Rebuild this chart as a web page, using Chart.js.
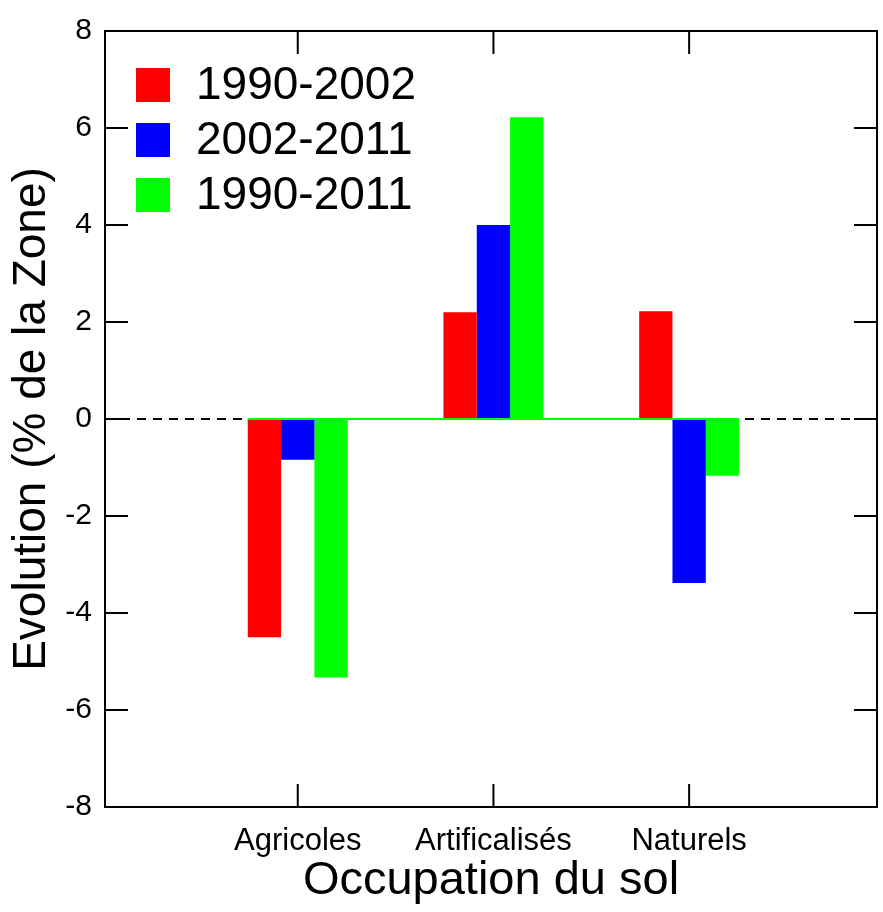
<!DOCTYPE html>
<html>
<head>
<meta charset="utf-8">
<script src="https://cdn.jsdelivr.net/npm/chart.js@4.4.0/dist/chart.umd.min.js"></script>
<style>
  html, body { margin: 0; padding: 0; background: #fff; }
  #wrap { width: 883px; height: 912px; }
</style>
</head>
<body>
<div id="wrap"><canvas id="chart" width="883" height="912"></canvas></div>
<script>
const categories = ["Agricoles", "Artificalisés", "Naturels"];
const periods = ["1990-2002", "2002-2011", "1990-2011"];
const values_1990_2002 = [-4.5, 2.2, 2.22];
const values_2002_2011 = [-0.84, 4.0, -3.38];
const values_1990_2011 = [-5.33, 6.22, -1.17];
const yTicks = [-8, -6, -4, -2, 0, 2, 4, 6, 8];
const colors = ["#ff0000", "#0000ff", "#00ff00"];

const FONT = "'Liberation Sans', Arial, sans-serif";
const seriesValues = [values_1990_2002, values_2002_2011, values_1990_2011];

function toPoints(vals) {
  return vals.map((v, i) => ({ x: i + 1, y: v }));
}

// frame, inward ticks, zero line, legend
const decor = {
  id: "decor",
  beforeDatasetsDraw(chart) {
    const { ctx, chartArea: a, scales } = chart;
    const y0 = scales.y.getPixelForValue(0);
    ctx.save();
    ctx.strokeStyle = "#000";
    ctx.lineWidth = 2;
    ctx.setLineDash([9, 7]);
    ctx.beginPath();
    ctx.moveTo(a.left, y0);
    ctx.lineTo(a.right, y0);
    ctx.stroke();
    ctx.restore();
  },
  afterDatasetsDraw(chart) {
    const { ctx, chartArea: a, scales } = chart;
    const y0 = scales.y.getPixelForValue(0);
    const first = chart.getDatasetMeta(0).data[0];
    const lastMeta = chart.getDatasetMeta(chart.data.datasets.length - 1);
    const last = lastMeta.data[lastMeta.data.length - 1];
    ctx.save();
    ctx.strokeStyle = "#00ff00";
    ctx.lineWidth = 2;
    ctx.beginPath();
    ctx.moveTo(first.x - first.width / 2, y0);
    ctx.lineTo(last.x + last.width / 2, y0);
    ctx.stroke();

    ctx.strokeStyle = "#000";
    ctx.lineWidth = 2;
    ctx.strokeRect(a.left, a.top, a.right - a.left, a.bottom - a.top);
    const tl = 23;
    ctx.beginPath();
    yTicks.forEach(t => {
      const py = scales.y.getPixelForValue(t);
      ctx.moveTo(a.left, py); ctx.lineTo(a.left + tl, py);
      ctx.moveTo(a.right, py); ctx.lineTo(a.right - tl, py);
    });
    categories.forEach((c, i) => {
      const px = scales.x.getPixelForValue(i + 1);
      ctx.moveTo(px, a.bottom); ctx.lineTo(px, a.bottom - tl);
      ctx.moveTo(px, a.top); ctx.lineTo(px, a.top + tl);
    });
    ctx.stroke();

    // legend
    ctx.font = "46px " + FONT;
    ctx.textBaseline = "middle";
    ctx.textAlign = "left";
    chart.data.datasets.forEach((ds, i) => {
      const top = 68 + i * 55;
      ctx.fillStyle = ds.backgroundColor;
      ctx.fillRect(136, top, 34, 34);
      ctx.fillStyle = "#000";
      ctx.fillText(ds.label, 196, top + 18);
    });
    ctx.restore();
  }
};

new Chart(document.getElementById("chart"), {
  type: "bar",
  data: {
    datasets: periods.map((p, i) => ({
      label: p,
      data: toPoints(seriesValues[i]),
      backgroundColor: colors[i],
      borderWidth: 0,
      barPercentage: 1,
      categoryPercentage: 0.511
    }))
  },
  options: {
    responsive: false,
    animation: false,
    layout: { padding: { top: 26, right: 6, left: 0, bottom: 0 } },
    plugins: { legend: { display: false }, tooltip: { enabled: false } },
    scales: {
      x: {
        type: "linear",
        offset: false,
        min: 0.015,
        max: 3.96,
        afterBuildTicks(scale) {
          scale.ticks = categories.map((c, i) => ({ value: i + 1 }));
        },
        afterFit(scale) { scale.height = 105; },
        grid: { display: false, drawTicks: false, offset: false },
        border: { display: false },
        ticks: {
          color: "#000",
          padding: 16,
          font: { family: FONT, size: 31 },
          callback: v => categories[v - 1] || ""
        },
        title: {
          display: true,
          text: "Occupation du sol",
          color: "#000",
          font: { family: FONT, size: 47 },
          padding: { top: 0, bottom: 3 }
        }
      },
      y: {
        min: -8,
        max: 8,
        afterBuildTicks(scale) {
          scale.ticks = yTicks.map(v => ({ value: v }));
        },
        afterFit(scale) { scale.width = 105; },
        grid: { display: false, drawTicks: false },
        border: { display: false },
        ticks: {
          color: "#000",
          padding: 13,
          font: { family: FONT, size: 30 }
        },
        title: {
          display: true,
          text: "Evolution (% de la Zone)",
          color: "#000",
          font: { family: FONT, size: 46 },
          padding: { top: 5, bottom: 0 }
        }
      }
    }
  },
  plugins: [decor]
});
</script>
</body>
</html>
